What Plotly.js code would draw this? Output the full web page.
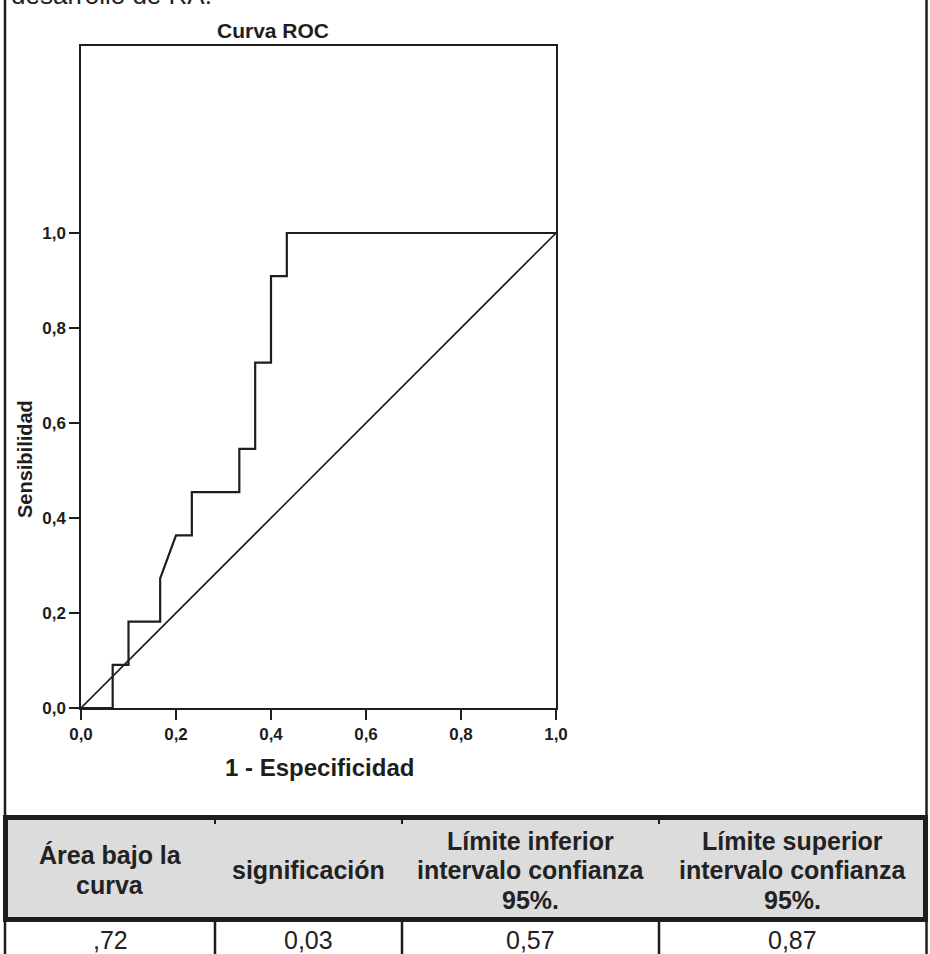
<!DOCTYPE html>
<html>
<head>
<meta charset="utf-8">
<script src="https://cdn.plot.ly/plotly-3.0.1.min.js"></script>
<style>
  html, body { margin: 0; padding: 0; background: #fff; }
  #chart { width: 930px; height: 954px; }
</style>
</head>
<body>
<div id="chart"></div>
<script>
// ---- data ----
const fpr = [0, 0.0667, 0.0667, 0.1, 0.1, 0.1667, 0.1667, 0.2, 0.2333, 0.2333, 0.3333, 0.3333, 0.3667, 0.3667, 0.4, 0.4, 0.4333, 0.4333, 1.0];
const tpr = [0, 0, 0.0909, 0.0909, 0.1818, 0.1818, 0.2727, 0.3636, 0.3636, 0.4545, 0.4545, 0.5455, 0.5455, 0.7273, 0.7273, 0.9091, 0.9091, 1.0, 1.0];
const diagX = [0, 1];
const diagY = [0, 1];
const tickVals = [0, 0.2, 0.4, 0.6, 0.8, 1.0];
const tickText = ['0,0', '0,2', '0,4', '0,6', '0,8', '1,0'];
const chartTitle = 'Curva ROC';
const xTitle = '1 - Especificidad';
const yTitle = 'Sensibilidad';
const topText = 'desarrollo de RA.';
const tableHeaders = [
  ['Área bajo la', 'curva'],
  ['significación'],
  ['Límite inferior', 'intervalo confianza', '95%.'],
  ['Límite superior', 'intervalo confianza', '95%.']
];
const tableValues = [',72', '0,03', '0,57', '0,87'];

// ---- layout helpers (pixel -> paper) ----
const W = 930, H = 954;
const px = v => v / W;
const py = v => 1 - v / H;
const FONT = 'Liberation Sans, Arial, sans-serif';
const INK = '#1e1e1e';

const plotL = 81, plotR = 556, plotT = 46, plotB = 708, unit = 475;

const colEdges = [5, 215, 402, 659, 926];
const headTop = 815, headBot = 922;

const shapes = [];
const annotations = [];

// outer frame lines (left/right)
shapes.push({type: 'line', xref: 'paper', yref: 'paper', x0: px(5), x1: px(5), y0: py(0), y1: py(headTop), line: {color: INK, width: 2.5}});
shapes.push({type: 'line', xref: 'paper', yref: 'paper', x0: px(926.5), x1: px(926.5), y0: py(0), y1: py(headTop), line: {color: INK, width: 2.5}});

// table header box
shapes.push({type: 'rect', xref: 'paper', yref: 'paper', x0: px(5.5), x1: px(925.5), y0: py(headTop + 2.5), y1: py(headBot - 2.5),
  fillcolor: '#dcdcdc', line: {color: INK, width: 5}, layer: 'below'});
// small divider marks at header top
colEdges.slice(1, 4).forEach(x => {
  shapes.push({type: 'line', xref: 'paper', yref: 'paper', x0: px(x), x1: px(x), y0: py(820), y1: py(824), line: {color: INK, width: 2}});
});
// data row vertical lines
colEdges.forEach((x, i) => {
  const xx = i === 0 ? 5 : (i === 4 ? 926.5 : x);
  shapes.push({type: 'line', xref: 'paper', yref: 'paper', x0: px(xx), x1: px(xx), y0: py(headBot), y1: py(H), line: {color: INK, width: 2.5}});
});

// header text
const lineGap = 29.5, headMid = 870, hdrSize = 25;
tableHeaders.forEach((lines, c) => {
  const cx = (colEdges[c] + colEdges[c + 1]) / 2;
  const n = lines.length;
  lines.forEach((t, k) => {
    const cy = headMid + (k - (n - 1) / 2) * lineGap;
    annotations.push({text: '<b>' + t + '</b>', xref: 'paper', yref: 'paper', x: px(cx), y: py(cy),
      xanchor: 'center', yanchor: 'middle', showarrow: false, font: {family: FONT, size: hdrSize, color: '#222'}});
  });
});
// data row text
tableValues.forEach((t, c) => {
  const cx = (colEdges[c] + colEdges[c + 1]) / 2;
  annotations.push({text: t, xref: 'paper', yref: 'paper', x: px(cx), y: py(939.5),
    xanchor: 'center', yanchor: 'middle', showarrow: false, font: {family: FONT, size: 25, color: '#222'}});
});

// top cut text (cut off by the top edge, as in the reference)
annotations.push({text: topText, xref: 'paper', yref: 'paper', x: px(9), y: py(-5), xanchor: 'left', yanchor: 'middle',
  showarrow: false, font: {family: FONT, size: 26, color: '#222'}});

// chart title
annotations.push({text: '<b>' + chartTitle + '</b>', xref: 'paper', yref: 'paper', x: px(273), y: py(31), xanchor: 'center', yanchor: 'middle',
  showarrow: false, font: {family: FONT, size: 21, color: INK}});
// x title
annotations.push({text: '<b>' + xTitle + '</b>', xref: 'paper', yref: 'paper', x: px(319), y: py(767), xanchor: 'center', yanchor: 'middle',
  showarrow: false, font: {family: FONT, size: 24, color: INK}});
// y title
annotations.push({text: '<b>' + yTitle + '</b>', xref: 'paper', yref: 'paper', x: px(25), y: py(459), xanchor: 'center', yanchor: 'middle',
  textangle: -90, showarrow: false, font: {family: FONT, size: 20, color: INK}});

const traces = [
  {x: diagX, y: diagY, type: 'scatter', mode: 'lines', line: {color: INK, width: 1.6}, hoverinfo: 'skip', cliponaxis: false},
  {x: fpr, y: tpr, type: 'scatter', mode: 'lines', line: {color: INK, width: 2.2}, hoverinfo: 'skip', cliponaxis: false}
];

const axisCommon = {
  showline: true, linecolor: INK, linewidth: 1.6, mirror: true,
  showgrid: false, zeroline: false,
  ticks: 'outside', ticklen: 10, tickwidth: 1.6, tickcolor: INK,
  tickvals: tickVals, ticktext: tickText.map(t => '<b>' + t + '</b>'),
  tickfont: {family: FONT, size: 17, color: INK}, fixedrange: true
};

const layout = {
  width: W, height: H,
  margin: {l: 0, r: 0, t: 0, b: 0},
  paper_bgcolor: '#ffffff', plot_bgcolor: '#ffffff',
  showlegend: false,
  xaxis: Object.assign({}, axisCommon, {domain: [px(plotL), px(plotR)], range: [0, 1]}),
  yaxis: Object.assign({}, axisCommon, {domain: [py(plotB), py(plotT)], range: [0, (plotB - plotT) / unit], ticklabelstandoff: 0}),
  shapes: shapes,
  annotations: annotations
};

Plotly.newPlot('chart', traces, layout, {displayModeBar: false, staticPlot: true});
</script>
</body>
</html>
